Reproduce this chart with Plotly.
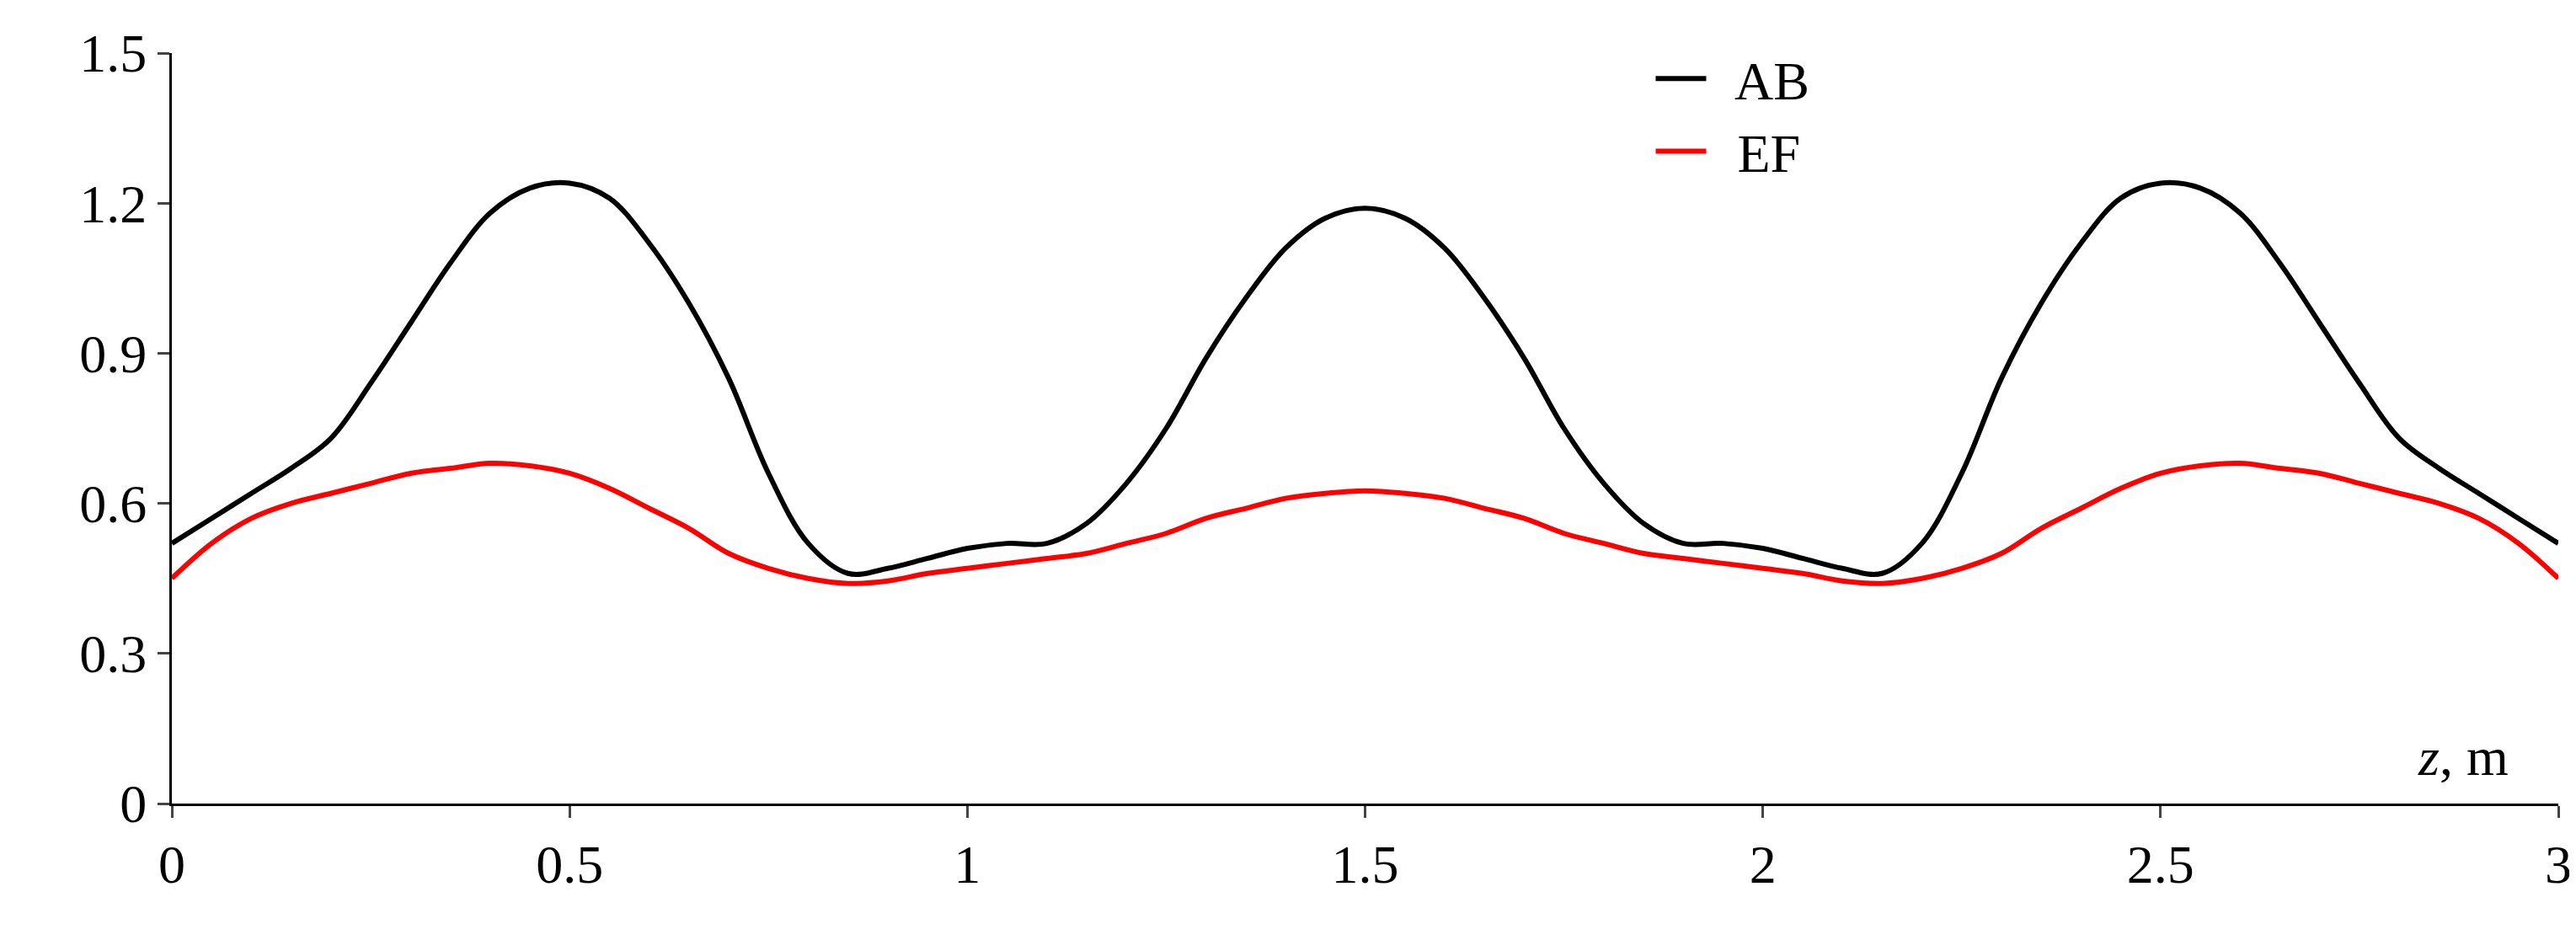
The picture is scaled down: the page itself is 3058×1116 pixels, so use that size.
import plotly.graph_objects as go

z = [i*0.05 for i in range(61)]
ab = [0.52,0.57,0.62,0.67,0.73,0.84,0.96,1.08,1.18,1.23,1.24,1.21,1.12,1.00,0.85,0.66,0.52,0.46,0.47,0.49,0.51,0.52,0.52,0.56,0.64,0.75,0.89,1.01,1.11,1.17,1.19,
      1.17,1.11,1.01,0.89,0.75,0.64,0.56,0.52,0.52,0.51,0.49,0.47,0.46,0.52,0.66,0.85,1.00,1.12,1.21,1.24,1.23,1.18,1.08,0.96,0.84,0.73,0.67,0.62,0.57,0.52]
ef = [0.45,0.52,0.57,0.60,0.62,0.64,0.66,0.67,0.68,0.675,0.66,0.63,0.59,0.55,0.50,0.47,0.45,0.44,0.445,0.46,0.47,0.48,0.49,0.50,0.52,0.54,0.57,0.59,0.61,0.62,0.625,
      0.62,0.61,0.59,0.57,0.54,0.52,0.50,0.49,0.48,0.47,0.46,0.445,0.44,0.45,0.47,0.50,0.55,0.59,0.63,0.66,0.675,0.68,0.67,0.66,0.64,0.62,0.60,0.57,0.52,0.45]
xticks = [0,0.5,1,1.5,2,2.5,3]
xlabels = ["0","0.5","1","1.5","2","2.5","3"]
yticks = [0,0.3,0.6,0.9,1.2,1.5]
ylabels = ["0","0.3","0.6","0.9","1.2","1.5"]

font = "Liberation Serif"
fig = go.Figure()
fig.add_trace(go.Scatter(x=z, y=ab, mode="lines", name="  AB", line=dict(color="black", width=6, shape="spline", smoothing=1.0)))
fig.add_trace(go.Scatter(x=z, y=ef, mode="lines", name="  EF", line=dict(color="#ff0000", width=6, shape="spline", smoothing=1.0)))
fig.update_layout(
    width=3058, height=1116, plot_bgcolor="white", paper_bgcolor="white",
    margin=dict(l=196, r=29, t=55, b=170),
    font=dict(family=font, size=64, color="black"),
    legend=dict(x=0.62, y=1.02, xanchor="left", yanchor="top", bgcolor="rgba(0,0,0,0)", font=dict(size=64), itemwidth=60),
    xaxis=dict(range=[0,3], tickvals=xticks, ticktext=xlabels, showline=True, linecolor="black", linewidth=3,
               ticks="outside", ticklen=14, tickwidth=3, showgrid=False, zeroline=False),
    yaxis=dict(range=[0,1.5], tickvals=yticks, ticktext=ylabels, showline=True, linecolor="black", linewidth=3,
               ticks="outside", ticklen=14, tickwidth=3, showgrid=False, zeroline=False),
    annotations=[
        dict(x=0.03, y=1.53, xref="x", yref="y", xanchor="left", yanchor="top", showarrow=False,
             text="|<i>I</i>|, mA", font=dict(size=64)),
        dict(x=2.94, y=0.03, xref="x", yref="y", xanchor="right", yanchor="bottom", showarrow=False,
             text="<i>z</i>, m", font=dict(size=64)),
    ],
)
fig.write_html("out.html")
